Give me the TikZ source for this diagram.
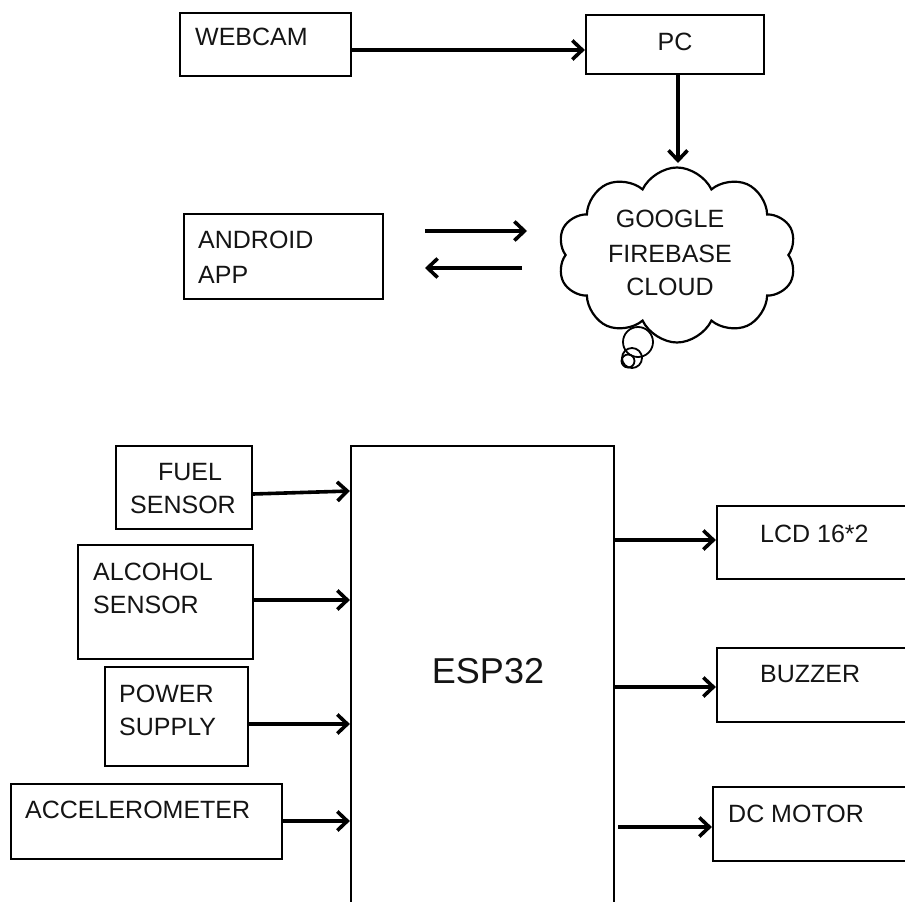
\documentclass[tikz,border=0pt]{standalone}
\usepackage{fontspec}
\setmainfont{Liberation Sans}
\usetikzlibrary{arrows.meta,shapes.symbols,fit}
\begin{document}
\begin{tikzpicture}[x=1pt,y=-1pt,
  box/.style={draw, line width=2.2pt, inner sep=0pt, fill=none},
  lbl/.style={font=\fontsize{25}{34}\selectfont, inner sep=0pt, anchor=base west, text=black!92},
  clbl/.style={lbl, anchor=base},
  arr/.style={line width=3.6pt, -{Straight Barb[length=10pt,width=19pt]}},
]
\useasboundingbox (0,0) rectangle (905,902);
\clip (0,0) rectangle (905,902);

% top part
\node[box, fit={(180,13) (351,76)}] (webcam) {};
\node[lbl] (twebcam) at (195,45) {WEBCAM};
\node[box, fit={(586,15) (764,74)}] (pc) {};
\node[clbl] (tpc) at (675,50) {PC};
\draw[arr] (webcam.east |- 0,50) -- (pc.west |- 0,50);

\node[cloud, draw, line width=2.2pt, cloud puffs=10, cloud puff arc=130,
      minimum width=239pt, minimum height=175pt, inner sep=0pt] (cloud) at (677,255) {};
\node[clbl] (tgoogle) at (670,227) {GOOGLE};
\node[clbl] (tfirebase) at (670,262) {FIREBASE};
\node[clbl] (tcloud) at (670,295) {CLOUD};
\node[circle, draw, line width=1.8pt, minimum size=30pt, inner sep=0pt] (bub1) at (638,342) {};
\node[circle, draw, line width=1.8pt, minimum size=20pt, inner sep=0pt] (bub2) at (632,358) {};
\node[circle, draw, line width=1.8pt, minimum size=13pt, inner sep=0pt] (bub3) at (628,361) {};
\draw[arr] (pc.south -| 678,0) -- (678,163) coordinate (cloudtop);

\node[box, fit={(184,214) (383,299)}] (android) {};
\node[lbl] (tandroid) at (198,248) {ANDROID};
\node[lbl] (tapp) at (198,283) {APP};
\coordinate (r1) at (425,231);
\coordinate (r2) at (527,231);
\coordinate (l1) at (522,268);
\coordinate (l2) at (425,268);
\draw[arr] (r1) -- (r2);
\draw[arr] (l1) -- (l2);

% bottom part
\node[box, fit={(351,446) (614,1000)}] (esp) {};
\node[lbl, font=\fontsize{36}{40}\selectfont, anchor=base] (tesp) at (488,683) {ESP32};

\node[box, fit={(116,446) (252,529)}] (fuel) {};
\node[clbl] (tfuel) at (190,480) {FUEL};
\node[clbl] (tfuels) at (183,513) {SENSOR};
\node[box, fit={(78,545) (253,659)}] (alcohol) {};
\node[lbl] (talc) at (93,580) {ALCOHOL};
\node[lbl] (talcs) at (93,613) {SENSOR};
\node[box, fit={(105,667) (248,766)}] (power) {};
\node[lbl] (tpow) at (119,702) {POWER};
\node[lbl] (tpows) at (119,735) {SUPPLY};
\node[box, fit={(11,784) (282,859)}] (accel) {};
\node[lbl] (tacc) at (25,818) {ACCELEROMETER};

\draw[arr] (fuel.east |- 0,494) -- (esp.west |- 0,491);
\draw[arr] (alcohol.east |- 0,600) -- (esp.west |- 0,600);
\draw[arr] (power.east |- 0,724) -- (esp.west |- 0,724);
\draw[arr] (accel.east |- 0,821) -- (esp.west |- 0,821);

\node[box, fit={(717,506) (960,579)}] (lcd) {};
\node[lbl] (tlcd) at (760,542) {LCD 16*2};
\node[box, fit={(717,648) (960,722)}] (buzzer) {};
\node[lbl] (tbuz) at (760,682) {BUZZER};
\node[box, fit={(713,787) (960,861)}] (motor) {};
\node[lbl] (tmot) at (728,822) {DC MOTOR};

\draw[arr] (esp.east |- 0,540) -- (lcd.west |- 0,540);
\draw[arr] (esp.east |- 0,687) -- (buzzer.west |- 0,687);
\draw[arr] ([xshift=3pt]esp.east |- 0,827) -- (motor.west |- 0,827);
\end{tikzpicture}
\end{document}
